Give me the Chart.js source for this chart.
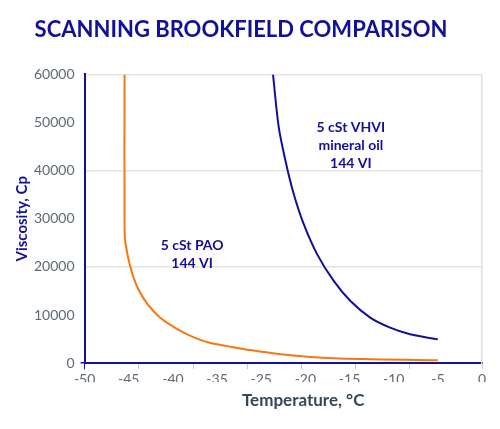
<!DOCTYPE html>
<html>
<head>
<meta charset="utf-8">
<script src="https://cdn.jsdelivr.net/npm/chart.js@4.4.1/dist/chart.umd.min.js"></script>
<style>
  html, body { margin: 0; padding: 0; background: #fff; }
  #wrap { width: 500px; height: 429px; }
</style>
</head>
<body>
<div id="wrap"><canvas id="viscosityChart"></canvas></div>
<script>
// x values are axis slots: 0 = "-50" ... 9 = "0" (the original axis skips -30)
const tempLabels = ['-50', '-45', '-40', '-35', '-25', '-20', '-15', '-10', '-5', '0'];

const paoX = [0.905, 0.905, 0.927, 1.04, 1.20, 1.42, 1.72, 2.10, 2.46, 2.85, 3.23, 3.75, 4.43, 5.63, 8.0];
const paoY = [60000, 28000, 24870, 19860, 15680, 12330, 9400, 7100, 5430, 4180, 3550, 2720, 1880, 1050, 630];

const vhviX = [4.267, 4.394, 4.545, 4.733, 4.959, 5.262, 5.638, 6.015, 6.468, 6.920, 7.372, 8.0];
const vhviY = [60000, 49180, 42220, 35260, 28990, 22720, 17140, 12960, 9470, 7380, 6000, 4950];

const navy = '#10109a';
const orange = '#f7770f';
const tickGrey = '#5d6875';

function toPoints(xs, ys) {
  return xs.map((x, i) => ({ x: x, y: ys[i] }));
}

const curveNotes = [
  { x: 2.435, y: 24450, lines: ['5 cSt PAO', '144 VI'] },
  { x: 6.03, y: 48900, lines: ['5 cSt VHVI', 'mineral oil', '144 VI'] }
];

const notesPlugin = {
  id: 'notes',
  afterDatasetsDraw(chart) {
    const { ctx, chartArea, scales } = chart;
    ctx.save();
    ctx.font = 'bold 14px Lato';
    ctx.fillStyle = navy;
    ctx.textAlign = 'center';
    ctx.textBaseline = 'middle';
    curveNotes.forEach(n => {
      const px = scales.x.getPixelForValue(n.x);
      const py = scales.y.getPixelForValue(n.y);
      n.lines.forEach((line, i) => ctx.fillText(line, px, py + i * 18));
    });
    // axis title sits a bit right of centre in the original
    ctx.font = 'bold 17px Lato';
    ctx.fillStyle = '#34475a';
    ctx.fillText('Temperature, °C', scales.x.getPixelForValue(4.95), chartArea.bottom + 37);
    ctx.restore();
  }
};

new Chart(document.getElementById('viscosityChart'), {
  type: 'line',
  data: {
    datasets: [
      {
        label: '5 cSt PAO',
        data: toPoints(paoX, paoY),
        xAxisID: 'x',
        borderColor: orange,
        borderWidth: 2,
        pointRadius: 0,
        tension: 0.3
      },
      {
        label: '5 cSt VHVI mineral oil',
        data: toPoints(vhviX, vhviY),
        xAxisID: 'x',
        borderColor: navy,
        borderWidth: 2,
        pointRadius: 0,
        tension: 0.3
      }
    ]
  },
  options: {
    responsive: true,
    maintainAspectRatio: false,
    animation: false,
    layout: { padding: { right: 18, bottom: 47 } },
    plugins: {
      legend: { display: false },
      tooltip: { enabled: false },
      title: {
        display: true,
        text: 'SCANNING BROOKFIELD COMPARISON',
        color: navy,
        font: { family: 'Lato', size: 22, weight: 'bold' },
        padding: { top: 17, bottom: 31 }
      }
    },
    scales: {
      x: {
        type: 'linear',
        position: 'bottom',
        weight: 1,
        min: 0,
        max: 9,
        grid: { display: false },
        border: { display: false },
        ticks: {
          stepSize: 1,
          padding: -6,
          color: tickGrey,
          font: { family: 'Lato', size: 14 },
          maxRotation: 0,
          autoSkip: false,
          callback: v => tempLabels[v]
        }
      },
      x2: {
        type: 'linear',
        position: 'bottom',
        weight: 0,
        min: 0,
        max: 7.33,
        ticks: { display: false, stepSize: 1 },
        grid: {
          drawOnChartArea: false,
          tickLength: 6,
          tickColor: c => c.index === 0 ? navy : '#c9c9c9'
        },
        border: { color: navy, width: 2 }
      },
      y: {
        min: 0,
        max: 60000,
        ticks: {
          stepSize: 10000,
          padding: 6,
          color: tickGrey,
          font: { family: 'Lato', size: 14 },
          callback: v => String(v)
        },
        grid: {
          color: c => c.tick.value % 20000 === 0 ? '#e4e4e4' : 'transparent',
          lineWidth: 1.5,
          tickLength: 4,
          tickColor: c => c.tick.value === 0 ? navy : 'transparent'
        },
        border: { color: navy, width: 2 },
        title: {
          display: true,
          text: 'Viscosity, Cp',
          color: navy,
          font: { family: 'Lato', size: 15, weight: 'bold' },
          padding: { top: 13, bottom: -3 }
        }
      },
      y2: {
        position: 'right',
        min: 0,
        max: 60000,
        ticks: { display: false },
        grid: { drawOnChartArea: false, drawTicks: false },
        border: { color: '#dedede', width: 1.5 }
      }
    }
  },
  plugins: [notesPlugin]
});
</script>
</body>
</html>
